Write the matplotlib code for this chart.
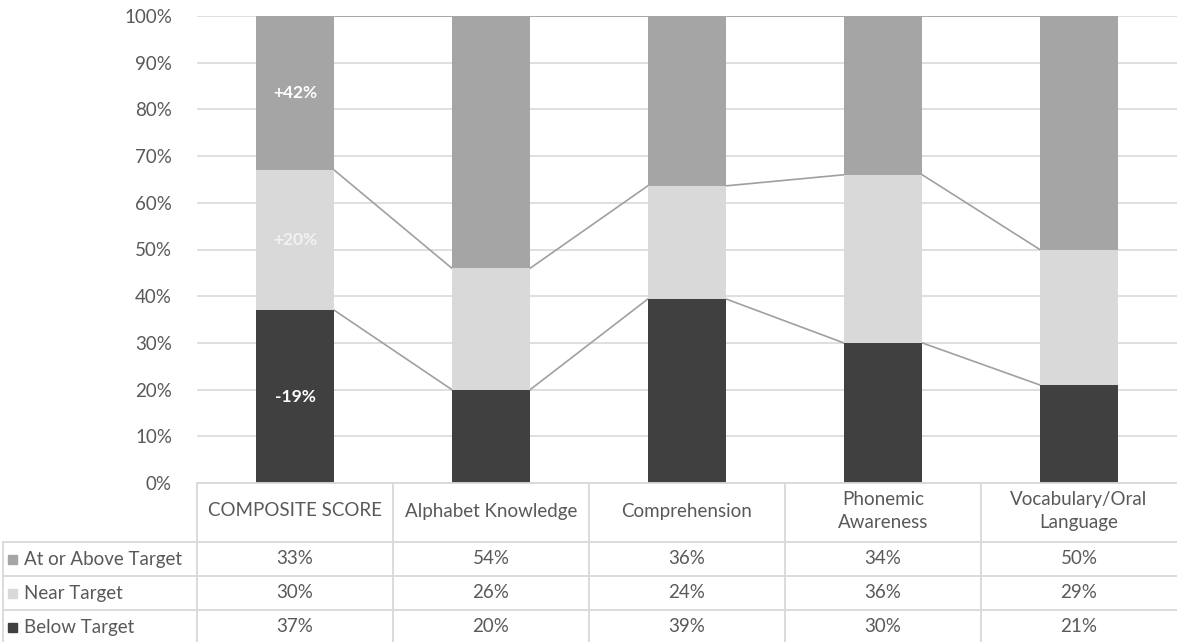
import matplotlib
matplotlib.use("Agg")
import matplotlib.pyplot as plt
import numpy as np

plt.rcParams['font.family'] = ['Lato', 'DejaVu Sans']

# dati del grafico
categorie = ["COMPOSITE SCORE", "Alphabet Knowledge", "Comprehension",
             "Phonemic\nAwareness", "Vocabulary/Oral\nLanguage"]
serie = ["At or Above Target", "Near Target", "Below Target"]
sopra = [33, 54, 36, 34, 50]
vicino = [30, 26, 24, 36, 29]
sotto = [37, 20, 39, 30, 21]
etichette_composite = ["+42%", "+20%", "-19%"]  # sopra, vicino, sotto

col_sopra = "#A5A5A5"
col_vicino = "#D9D9D9"
col_sotto = "#404040"
col_testo = "#595959"
col_griglia = "#D9D9D9"

sopra_a = np.array(sopra, dtype=float)
vicino_a = np.array(vicino, dtype=float)
sotto_a = np.array(sotto, dtype=float)
tot = sopra_a + vicino_a + sotto_a
# grafico in pila al 100%
p_sotto = sotto_a / tot * 100
p_vicino = vicino_a / tot * 100
p_sopra = sopra_a / tot * 100

W, H = 1177, 642
fig = plt.figure(figsize=(W / 100, H / 100), dpi=100)
ax = fig.add_axes([197 / W, 1 - 483 / H, 980 / W, 467 / H])

x = np.arange(len(categorie))
larg = 0.4
ax.bar(x, p_sotto, larg, color=col_sotto, zorder=3)
ax.bar(x, p_vicino, larg, bottom=p_sotto, color=col_vicino, zorder=3)
ax.bar(x, p_sopra, larg, bottom=p_sotto + p_vicino, color=col_sopra, zorder=3)

# linee di serie tra le barre
liv1 = p_sotto
liv2 = p_sotto + p_vicino
liv3 = p_sotto + p_vicino + p_sopra
for liv in (liv1, liv2, liv3):
    for i in range(len(x) - 1):
        ax.plot([x[i] + larg / 2, x[i + 1] - larg / 2], [liv[i], liv[i + 1]],
                color="#A0A0A0", lw=1.2, zorder=2)

# etichette sulla prima barra
ax.text(0, liv2[0] + p_sopra[0] / 2, etichette_composite[0], ha="center", va="center",
        color="white", fontsize=12.5, fontweight="bold", zorder=4)
ax.text(0, liv1[0] + p_vicino[0] / 2, etichette_composite[1], ha="center", va="center",
        color="#F2F2F2", fontsize=12.5, fontweight="bold", zorder=4)
ax.text(0, p_sotto[0] / 2, etichette_composite[2], ha="center", va="center",
        color="white", fontsize=12.5, fontweight="bold", zorder=4)

ax.set_xlim(-0.5, len(x) - 0.5)
ax.set_ylim(0, 100)
ax.set_yticks(np.arange(0, 101, 10))
ax.set_yticklabels([f"{v}%" for v in range(0, 101, 10)], color=col_testo, fontsize=13.5)
ax.tick_params(axis="y", length=0, pad=18)
ax.set_xticks([])
ax.grid(axis="y", color=col_griglia, lw=1.2, zorder=0)
for s in ax.spines.values():
    s.set_visible(False)

# tabella dati sotto il grafico
righe_y = [483, 542, 576, 610, 644]  # pixel
def fy(p):
    return 1 - p / H
def fx(p):
    return p / W

col_x = [197 + 196 * i for i in range(6)]
lw_t = 1.3
# linee orizzontali
fig.add_artist(plt.Line2D([fx(197), fx(1177)], [fy(483), fy(483)], color=col_griglia, lw=lw_t))
for yy in righe_y[1:]:
    fig.add_artist(plt.Line2D([fx(3), fx(1177)], [fy(yy), fy(yy)], color=col_griglia, lw=lw_t))
# linee verticali
for xx in col_x[:-1]:
    fig.add_artist(plt.Line2D([fx(xx), fx(xx)], [fy(483), fy(644)], color=col_griglia, lw=lw_t))
fig.add_artist(plt.Line2D([fx(3), fx(3)], [fy(542), fy(644)], color=col_griglia, lw=lw_t))

# intestazioni
for i, c in enumerate(categorie):
    fig.text(fx(col_x[i] + 98), fy(511), c, ha="center", va="center",
             color=col_testo, fontsize=13.5, linespacing=1.45)

valori = [sopra, vicino, sotto]
colori = [col_sopra, col_vicino, col_sotto]
for r in range(3):
    yc = fy((righe_y[r + 1] + righe_y[r + 2]) / 2)
    fig.patches.append(plt.Rectangle((fx(8), yc - 4.5 / H), 9 / W, 9 / H,
                                     transform=fig.transFigure, color=colori[r], figure=fig))
    fig.text(fx(24), yc, serie[r], ha="left", va="center", color=col_testo, fontsize=13.5)
    for i in range(len(categorie)):
        fig.text(fx(col_x[i] + 98), yc, f"{valori[r][i]}%", ha="center", va="center",
                 color=col_testo, fontsize=13.5)

fig.savefig("out.png", dpi=100)
